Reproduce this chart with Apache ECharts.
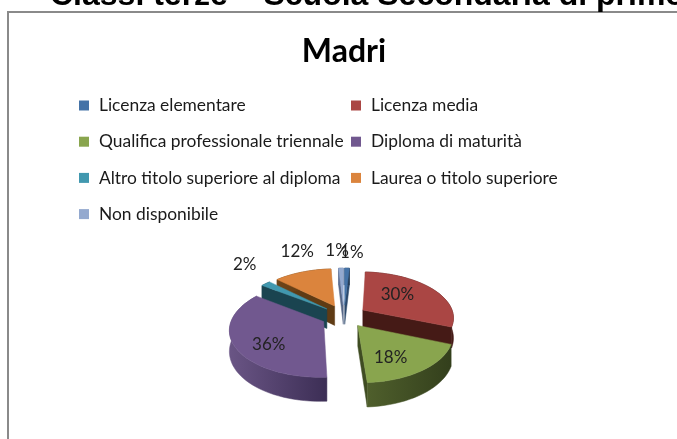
<!DOCTYPE html>
<html><head><meta charset="utf-8">
<style>html,body{margin:0;padding:0;background:#fff}#c{width:677px;height:439px}</style>
<script src="https://cdn.jsdelivr.net/npm/echarts@6/dist/echarts.min.js"></script></head>
<body><div id="c"></div>
<script>
const categories = ['Licenza elementare','Licenza media','Qualifica professionale triennale','Diploma di maturità','Altro titolo superiore al diploma','Laurea o titolo superiore','Non disponibile'];
const values = [1,30,18,36,2,12,1];
const pageTitle = 'Classi terze – Scuola Secondaria di primo grado';
const chartTitle = 'Madri';

const colors = ['#4573a7','#aa4644','#89a54e','#71588f','#4198af','#db843d','#93a9cf'];
const wallLight = ['#2f4f75','#451a16','#4f5f2c','#6a5585','#1a4450','#6e4418','#64769a'];
const wallDark  = ['#22384f','#451a16','#333f1c','#3c2e55','#1a4450','#5a3814','#4c5a76'];
const innerWall = ['#2b486b','#451a16','#3f4c22','#44355f','#1a4450','#5f3b14','#566787'];
// label placement, polar around each slice's apex
const labelRadius = [1.51,0.56,0.67,0.70,1.65,1.66,1.59];
const labelShift  = [2,-9,9,-11,7.5,6,-1.4];
// paint order, back to front
const paintOrder = [6,0,5,4,1,3,2];

const CX=344, CY=316, R=91, K=0.5, P=0.15, EXPLODE=0.25, DEPTH=20;
const FONT='Lato,"Liberation Sans",sans-serif';
const total = values.reduce((a,b)=>a+b,0);
const rad = d=>d*Math.PI/180;
function project(u,v,drop){
  const w = 1/(1-P*v);
  return [CX+R*u*w, CY+R*K*v*w+(drop||0)*w];
}
const starts = []; let acc = 0;
values.forEach(v=>{starts.push(acc); acc+=v/total*360;});

function sliceShapes(i){
  const a0 = starts[i], a1 = a0+values[i]/total*360, mid=(a0+a1)/2;
  const ou = EXPLODE*Math.sin(rad(mid)), ov = -EXPLODE*Math.cos(rad(mid));
  const rim = []; const steps = Math.max(3,Math.ceil((a1-a0)/3));
  for(let s=0;s<=steps;s++){
    const a=rad(a0+(a1-a0)*s/steps);
    rim.push([ou+Math.sin(a), ov-Math.cos(a)]);
  }
  const top = [project(ou,ov)].concat(rim.map(p=>project(p[0],p[1])));
  const down = p=>project(p[0],p[1],DEPTH);
  const up = p=>project(p[0],p[1]);
  const apex=[ou,ov], first=rim[0], last=rim[rim.length-1];
  const wall = (p,q)=>[up(p),up(q),down(q),down(p)];
  const outer = rim.map(up).concat(rim.slice().reverse().map(down));
  const la = rad(mid+labelShift[i]);
  const lp = project(ou+labelRadius[i]*Math.sin(la), ov-labelRadius[i]*Math.cos(la));
  const poly=(points,fill,z)=>({type:'polygon',shape:{points},style:{fill,stroke:fill,lineWidth:0.5},z2:z});
  const grad={type:'linear',x:0,y:0,x2:1,y2:0,colorStops:[{offset:0,color:wallLight[i]},{offset:1,color:wallDark[i]}]};
  const children=[];
  // a cut face is only seen when it turns towards the viewer
  if(-Math.cos(rad(a0-90))>0) children.push(poly(wall(apex,first),innerWall[i],1));
  if(-Math.cos(rad(a1+90))>0) children.push(poly(wall(apex,last),innerWall[i],1));
  children.push(poly(outer,grad,2),poly(top,colors[i],3),
    {type:'text',z2:20,style:{text:Math.round(values[i]/total*100)+'%',x:lp[0],y:lp[1],fill:'#222',
      font:'17px '+FONT,align:'center',verticalAlign:'middle'}});
  return {type:'group',children};
}

const series = paintOrder.map(i=>({
  name:categories[i],type:'custom',coordinateSystem:'none',silent:true,
  itemStyle:{color:colors[i]},data:[values[i]],z:3+paintOrder.indexOf(i),
  renderItem:()=>sliceShapes(i)
}));
const legendText={color:'#1a1a1a',fontSize:17.4,fontFamily:FONT,padding:[0,0,0,5]};
const legendBase={orient:'vertical',icon:'rect',itemWidth:10,itemHeight:10,itemGap:19.2,top:97,padding:0,textStyle:legendText,selectedMode:false};

const chart=echarts.init(document.getElementById('c'),null,{renderer:'canvas'});
chart.setOption({
  animation:false,backgroundColor:'#fff',
  title:[
    {text:pageTitle,left:50,top:-20,padding:0,textStyle:{fontSize:32,fontWeight:'bold',color:'#000',fontFamily:'"Liberation Sans",sans-serif'}},
    {text:chartTitle,left:344,top:36,padding:0,textAlign:'center',textStyle:{fontSize:32,fontWeight:'bold',color:'#000',fontFamily:FONT}}
  ],
  legend:[
    Object.assign({},legendBase,{left:79,data:[categories[0],categories[2],categories[4],categories[6]]}),
    Object.assign({},legendBase,{left:351,data:[categories[1],categories[3],categories[5]]})
  ],
  graphic:[{type:'polyline',z:0,silent:true,shape:{points:[[8,439],[8,12],[677,12]]},style:{fill:'none',stroke:'#8a8a8a',lineWidth:2}}],
  series
});
</script></body></html>
